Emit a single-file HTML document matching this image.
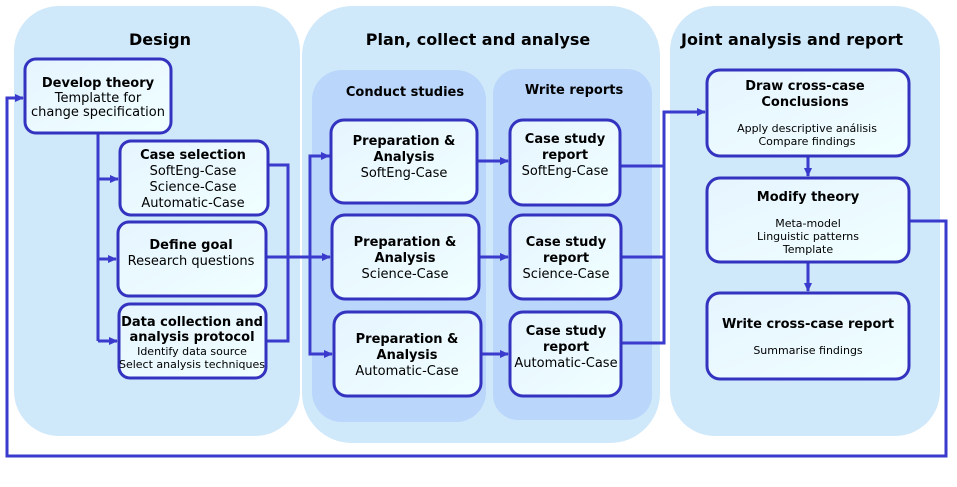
<!DOCTYPE html>
<html><head><meta charset="utf-8"><style>
html,body{margin:0;padding:0;background:#fff}
svg{display:block}
text{font-family:"DejaVu Sans","Liberation Sans",sans-serif;fill:#000;text-anchor:middle}
.t{font-size:16px;font-weight:bold}
.st{font-size:13px;font-weight:bold}
.b{font-size:13px;font-weight:bold}
.n{font-size:13px}
.s{font-size:11px}
.box{fill:url(#g);stroke:#3333c0;stroke-width:3}
.ln{fill:none;stroke:#3a3acc;stroke-width:3}
</style></head><body>
<svg width="957" height="487" viewBox="0 0 957 487">
<defs>
<linearGradient id="g" x1="0" y1="0" x2="1" y2="1"><stop offset="0" stop-color="#e6f4ff"/><stop offset="1" stop-color="#f0ffff"/></linearGradient>
<marker id="a" markerWidth="10" markerHeight="10" refX="8" refY="5" orient="auto" markerUnits="userSpaceOnUse"><path d="M0,1 L9,5 L0,9 z" fill="#3a3acc"/></marker>
</defs>
<rect x="14" y="6" width="286" height="430" rx="45" fill="#cfe8fa"/>
<rect x="302" y="6" width="358" height="437" rx="50" fill="#cfe8fa"/>
<rect x="670" y="6" width="270" height="430" rx="45" fill="#cfe8fa"/>
<rect x="312" y="70" width="174" height="352" rx="30" fill="#bad6fb"/>
<rect x="493" y="69" width="159" height="351" rx="25" fill="#bad6fb"/>
<text class="t" x="160" y="45">Design</text>
<text class="t" x="478" y="45">Plan, collect and analyse</text>
<text class="t" x="792" y="45">Joint analysis and report</text>
<text class="st" x="405" y="96">Conduct studies</text>
<text class="st" x="574" y="94">Write reports</text>

<!-- connectors -->
<path class="ln" d="M98,133 V341"/>
<path class="ln" d="M98,179 H118" marker-end="url(#a)"/>
<path class="ln" d="M98,259 H116" marker-end="url(#a)"/>
<path class="ln" d="M98,341 H117" marker-end="url(#a)"/>
<path class="ln" d="M268,165 H288 V341 H266"/>
<path class="ln" d="M264,257 H330" marker-end="url(#a)"/>
<path class="ln" d="M330,156 H310 V354 H332" marker-end="url(#a)"/>
<path class="ln" d="M310,156 H329" marker-end="url(#a)"/>
<path class="ln" d="M477,161 H508" marker-end="url(#a)"/>
<path class="ln" d="M479,257 H508" marker-end="url(#a)"/>
<path class="ln" d="M481,354 H508" marker-end="url(#a)"/>
<path class="ln" d="M620,166 H664 M621,257 H664 M621,343 H664 V112 H705" marker-end="url(#a)"/>
<path class="ln" d="M808,156 V176" marker-end="url(#a)"/>
<path class="ln" d="M808,262 V291" marker-end="url(#a)"/>
<path class="ln" d="M909,221 H946 V456 H7 V98 H23" marker-end="url(#a)"/>

<!-- boxes -->
<rect class="box" x="25" y="59" width="146" height="74" rx="11"/>
<text class="b" x="98" y="87">Develop theory</text>
<text class="n" x="98" y="102">Templatte for</text>
<text class="n" x="98" y="116">change specification</text>

<rect class="box" x="120" y="141" width="148" height="74" rx="11"/>
<text class="b" x="193" y="159">Case selection</text>
<text class="n" x="193" y="175">SoftEng-Case</text>
<text class="n" x="193" y="191">Science-Case</text>
<text class="n" x="193" y="207">Automatic-Case</text>

<rect class="box" x="118" y="222" width="148" height="74" rx="11"/>
<text class="b" x="191" y="249">Define goal</text>
<text class="n" x="191" y="265">Research questions</text>

<rect class="box" x="119" y="304" width="147" height="74" rx="11"/>
<text class="b" x="192" y="326">Data collection and</text>
<text class="b" x="192" y="341">analysis protocol</text>
<text class="s" x="192" y="355">Identify data source</text>
<text class="s" x="192" y="368">Select analysis techniques</text>

<rect class="box" x="331" y="120" width="146" height="83" rx="13"/>
<text class="b" x="404" y="145">Preparation &amp;</text>
<text class="b" x="404" y="161">Analysis</text>
<text class="n" x="404" y="177">SoftEng-Case</text>
<rect class="box" x="332" y="215" width="147" height="84" rx="13"/>
<text class="b" x="405" y="246">Preparation &amp;</text>
<text class="b" x="405" y="262">Analysis</text>
<text class="n" x="405" y="278">Science-Case</text>
<rect class="box" x="334" y="312" width="147" height="84" rx="13"/>
<text class="b" x="407" y="343">Preparation &amp;</text>
<text class="b" x="407" y="359">Analysis</text>
<text class="n" x="407" y="375">Automatic-Case</text>

<rect class="box" x="510" y="120" width="110" height="85" rx="13"/>
<text class="b" x="565" y="143">Case study</text>
<text class="b" x="565" y="159">report</text>
<text class="n" x="565" y="175">SoftEng-Case</text>
<rect class="box" x="510" y="215" width="111" height="84" rx="13"/>
<text class="b" x="566" y="246">Case study</text>
<text class="b" x="566" y="262">report</text>
<text class="n" x="566" y="278">Science-Case</text>
<rect class="box" x="510" y="312" width="111" height="84" rx="13"/>
<text class="b" x="566" y="335">Case study</text>
<text class="b" x="566" y="351">report</text>
<text class="n" x="566" y="367">Automatic-Case</text>

<rect class="box" x="707" y="70" width="202" height="86" rx="13"/>
<text class="b" x="805" y="90">Draw cross-case</text>
<text class="b" x="805" y="106">Conclusions</text>
<text class="s" x="807" y="132">Apply descriptive análisis</text>
<text class="s" x="807" y="145">Compare findings</text>
<rect class="box" x="707" y="178" width="202" height="84" rx="13"/>
<text class="b" x="808" y="201">Modify theory</text>
<text class="s" x="808" y="227">Meta-model</text>
<text class="s" x="808" y="240">Linguistic patterns</text>
<text class="s" x="808" y="253">Template</text>
<rect class="box" x="707" y="293" width="202" height="86" rx="13"/>
<text class="b" x="808" y="328">Write cross-case report</text>
<text class="s" x="808" y="354">Summarise findings</text>
</svg>
</body></html>
